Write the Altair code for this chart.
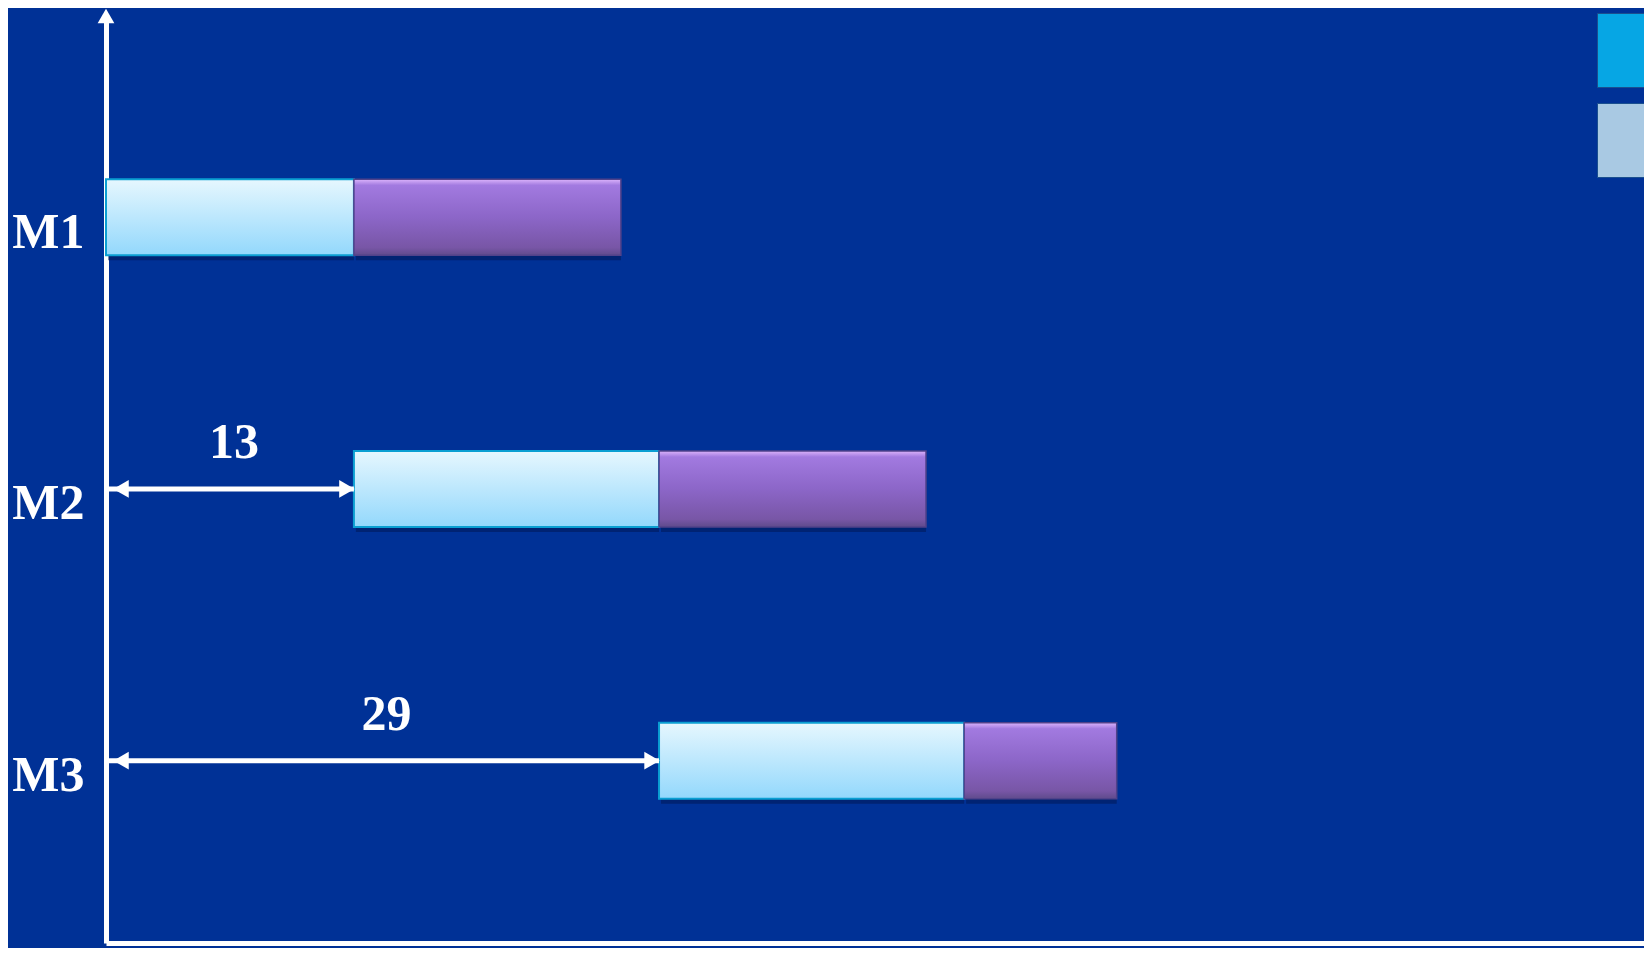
import altair as alt
import pandas as pd

# ---- data ----
machines = ["M1", "M2", "M3"]
rows = [1, 2, 3]
op1_start = [0, 13, 29]
op1_end = [13, 29, 45]
op2_start = [13, 29, 45]
op2_end = [27, 43, 53]
legend_items = ["工序1", "工序2"]
legend_colors = ["#06a6e4", "#a9c9e3"]

bars = pd.DataFrame({
    "machine": machines, "row": rows,
    "s1": op1_start, "e1": op1_end,
    "s2": op2_start, "e2": op2_end,
})
gaps = pd.DataFrame({
    "row": [r for r, s in zip(rows, op1_start) if s > 0],
    "gap": [s for s in op1_start if s > 0],
})
gaps["origin"] = 0
legend_df = pd.DataFrame({"item": legend_items})

X_DOMAIN = [0, 80.65]
Y_DOMAIN = [0.2927, 3.6527]
xscale = alt.Scale(domain=X_DOMAIN, nice=False, zero=False)
yscale = alt.Scale(domain=Y_DOMAIN, nice=False, zero=False, reverse=True)

label_expr = "[" + ",".join(f"'{m}'" for m in machines) + "][datum.value - 1]"

x_axis = alt.Axis(labels=False, ticks=False, grid=False, title=None,
                  domainColor="white", domainWidth=5)
y_axis = alt.Axis(values=rows, labelExpr=label_expr, labelFont="Liberation Serif",
                  labelFontWeight="bold", labelFontSize=50, labelColor="white",
                  labelPadding=22, labelOffset=30, labelBaseline="alphabetic",
                  labelAlign="right", ticks=False, grid=False, title=None,
                  domainColor="white", domainWidth=5)

blue_grad = alt.Gradient(gradient="linear", x1=0, x2=0, y1=0, y2=1, stops=[
    alt.GradientStop(color="#e6f7fe", offset=0),
    alt.GradientStop(color="#93d8fc", offset=1)])
purple_grad = alt.Gradient(gradient="linear", x1=0, x2=0, y1=0, y2=1, stops=[
    alt.GradientStop(color="#dcb4fc", offset=0),
    alt.GradientStop(color="#a27ae0", offset=0.08),
    alt.GradientStop(color="#8c66c8", offset=0.5),
    alt.GradientStop(color="#7856a6", offset=0.9),
    alt.GradientStop(color="#5f4b8c", offset=1)])

base = alt.Chart(bars)

shadow1 = base.mark_bar(size=76, color="#001650", opacity=0.5, xOffset=2, yOffset=5).encode(
    x=alt.X("s1:Q", scale=xscale, axis=x_axis),
    x2="e1:Q",
    y=alt.Y("row:Q", scale=yscale, axis=y_axis),
)
shadow2 = base.mark_bar(size=76, color="#001650", opacity=0.5, xOffset=2, yOffset=5).encode(
    x="s2:Q", x2="e2:Q", y="row:Q",
)
op1 = base.mark_bar(size=76, color=blue_grad, stroke="#0b9fd2", strokeWidth=2).encode(
    x="s1:Q", x2="e1:Q", y="row:Q",
)
op2 = base.mark_bar(size=76, color=purple_grad, stroke="#50428a", strokeWidth=1.5).encode(
    x="s2:Q", x2="e2:Q", y="row:Q",
)

g = alt.Chart(gaps)
arrow_line = g.mark_rule(color="white", strokeWidth=5).encode(
    x="origin:Q", x2="gap:Q", y="row:Q")
arrow_left = g.mark_point(shape="triangle-left", filled=True, size=320, color="white",
                          opacity=1, xOffset=15).encode(x="origin:Q", y="row:Q")
arrow_right = g.mark_point(shape="triangle-right", filled=True, size=320, color="white",
                           opacity=1, xOffset=-7).encode(x="gap:Q", y="row:Q")
gap_text = g.transform_calculate(mid="datum.gap / 2").mark_text(
    font="Liberation Serif", fontWeight="bold", fontSize=50, color="white",
    baseline="alphabetic", align="center", dy=-31, dx=4,
).encode(x="mid:Q", y="row:Q", text="gap:Q")

y_arrow = alt.Chart(pd.DataFrame({"a": [0]})).mark_point(
    shape="triangle-up", filled=True, size=280, color="white", opacity=1, yOffset=-9
).encode(x=alt.datum(X_DOMAIN[0]), y=alt.datum(Y_DOMAIN[0]))

legend_layer = alt.Chart(legend_df).mark_square(opacity=0).encode(
    color=alt.Color("item:N",
                    scale=alt.Scale(domain=legend_items, range=legend_colors),
                    legend=alt.Legend(orient="none", legendX=1491, legendY=-7,
                                      title=None, symbolType="square",
                                      symbolSize=5476, symbolOpacity=1,
                                      symbolStrokeWidth=1, symbolStrokeColor="#1a4f8f",
                                      labelExpr="''", rowPadding=11, padding=0)),
)

chart = alt.layer(shadow1, shadow2, op1, op2, arrow_line, arrow_left, arrow_right,
                  gap_text, y_arrow, legend_layer).properties(
    width=1538, height=923,
    autosize=alt.AutoSizeParams(type="none"),
    padding={"left": 98, "top": 12, "right": 0, "bottom": 5},
    background="#003196",
).configure_view(stroke=None)

chart.save("out.html", embed_options={"renderer": "svg", "actions": False})
